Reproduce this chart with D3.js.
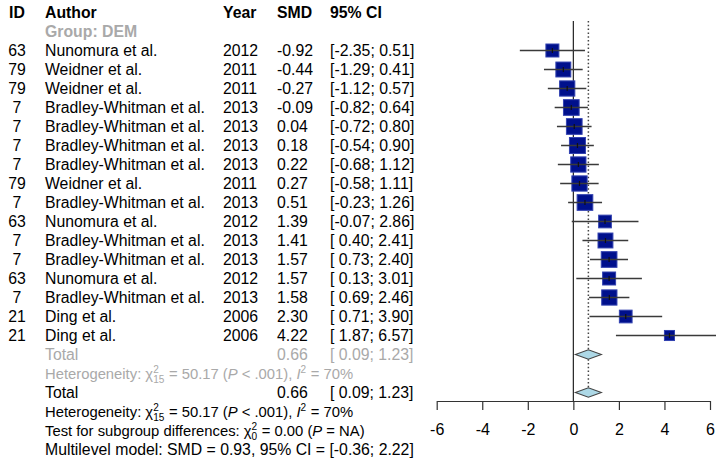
<!DOCTYPE html>
<html>
<head>
<meta charset="utf-8">
<script src="https://cdn.jsdelivr.net/npm/d3@7"></script>
<style>
  html, body { margin: 0; padding: 0; background: #fff; }
  svg { display: block; font-family: "Liberation Sans", Arial, Helvetica, sans-serif; }
</style>
</head>
<body>
<svg id="chart" width="716" height="463"></svg>
<script>
// Study-level data (subgroup DEM)
const ids     = [63, 79, 79, 7, 7, 7, 7, 79, 7, 63, 7, 7, 63, 7, 21, 21];
const authors = ["Nunomura et al.", "Weidner et al.", "Weidner et al.", "Bradley-Whitman et al.",
                 "Bradley-Whitman et al.", "Bradley-Whitman et al.", "Bradley-Whitman et al.",
                 "Weidner et al.", "Bradley-Whitman et al.", "Nunomura et al.",
                 "Bradley-Whitman et al.", "Bradley-Whitman et al.", "Nunomura et al.",
                 "Bradley-Whitman et al.", "Ding et al.", "Ding et al."];
const years   = [2012, 2011, 2011, 2013, 2013, 2013, 2013, 2011, 2013, 2012, 2013, 2013, 2012, 2013, 2006, 2006];
const smd     = [-0.92, -0.44, -0.27, -0.09, 0.04, 0.18, 0.22, 0.27, 0.51, 1.39, 1.41, 1.57, 1.57, 1.58, 2.30, 4.22];
const ciLow   = [-2.35, -1.29, -1.12, -0.82, -0.72, -0.54, -0.68, -0.58, -0.23, -0.07, 0.40, 0.73, 0.13, 0.69, 0.71, 1.87];
const ciHigh  = [0.51, 0.41, 0.57, 0.64, 0.80, 0.90, 1.12, 1.11, 1.26, 2.86, 2.41, 2.40, 3.01, 2.46, 3.90, 6.57];
// Random-effects weights (%)
const weights = [5.0, 6.6, 6.9, 7.3, 7.3, 7.6, 6.9, 6.9, 7.3, 4.8, 6.6, 7.3, 5.0, 6.9, 4.8, 3.0];

// Pooled estimates
const subgroupTotal = { est: 0.66, lo: 0.09, hi: 1.23 };
const overallTotal  = { est: 0.66, lo: 0.09, hi: 1.23 };
const axisTicks = [-6, -4, -2, 0, 2, 4, 6];

const svg = d3.select("#chart");
const FS = 15.8;      // table text
const FS_HET = 14.8;  // heterogeneity / test statistics
const black = "#000";
const grey = "#a9a9a9";

// Row layout
const rowY = k => 12.5 + 19 * k;
const col = { id: 17, author: 45, year: 223, smd: 277, ci: 330 };

const x = d3.scaleLinear().domain([-6, 6]).range([436.7, 710]);
const side = d3.scaleSqrt().domain([0, 7.6]).range([0, 16]);

const fmt = v => v.toFixed(2);
const fmtCI = (lo, hi) => "[" + (lo >= 0 ? " " : "") + fmt(lo) + "; " + fmt(hi) + "]";

function txt(xp, yc, s, opts = {}) {
  return svg.append("text")
    .attr("x", xp).attr("y", yc).attr("dy", "0.36em")
    .attr("font-size", opts.size || FS)
    .attr("font-weight", opts.bold ? "bold" : "normal")
    .attr("font-style", opts.italic ? "italic" : "normal")
    .attr("text-anchor", opts.anchor || "start")
    .attr("fill", opts.color || black)
    .style("white-space", "pre")
    .text(s);
}

// Header
txt(col.id, rowY(0), "ID", { bold: true, anchor: "middle" });
txt(col.author, rowY(0), "Author", { bold: true });
txt(col.year, rowY(0), "Year", { bold: true });
txt(col.smd, rowY(0), "SMD", { bold: true });
txt(col.ci, rowY(0), "95% CI", { bold: true });
txt(col.author, rowY(1), "Group: DEM", { bold: true, color: grey });

// Study rows (text)
smd.forEach((v, i) => {
  const y = rowY(i + 2);
  txt(col.id, y, ids[i], { anchor: "middle" });
  txt(col.author, y, authors[i]);
  txt(col.year, y, years[i]);
  txt(col.smd, y, fmt(v));
  txt(col.ci, y, fmtCI(ciLow[i], ciHigh[i]));
});

// Summary rows (text)
const kSub = smd.length + 2;
txt(col.author, rowY(kSub), "Total", { color: grey });
txt(col.smd, rowY(kSub), fmt(subgroupTotal.est), { color: grey });
txt(col.ci, rowY(kSub), fmtCI(subgroupTotal.lo, subgroupTotal.hi), { color: grey });
txt(col.author, rowY(kSub + 2), "Total");
txt(col.smd, rowY(kSub + 2), fmt(overallTotal.est));
txt(col.ci, rowY(kSub + 2), fmtCI(overallTotal.lo, overallTotal.hi));

// One line of text built from runs: plain, italic, or stacked super/subscripts
function rich(x0, yc, parts, color, size) {
  let cx = x0;
  const small = size * 0.68;
  const piece = (xp, y, s, sz, it) => {
    const t = svg.append("text").attr("x", xp).attr("y", y)
      .attr("font-size", sz).attr("fill", color)
      .attr("font-style", it ? "italic" : "normal")
      .style("white-space", "pre").text(s);
    return t.node().getComputedTextLength();
  };
  parts.forEach(p => {
    if (p.sup !== undefined) {
      const w1 = piece(cx, yc - 0.5, p.sup, small);
      const w2 = p.sub ? piece(cx, yc + 9, p.sub, small) : 0;
      cx += Math.max(w1, w2) + 0.5;
    } else {
      cx += piece(cx, yc + 5.3, p.t, size, p.it);
    }
  });
}

const hetParts = [
  { t: "Heterogeneity: χ" }, { sup: "2", sub: "15" },
  { t: " = 50.17 (" }, { t: "P", it: true }, { t: " < .001), " },
  { t: "I", it: true }, { sup: "2", sub: "" }, { t: " = 70%" }
];
rich(col.author, rowY(kSub + 1), hetParts, grey, FS_HET);
rich(col.author, rowY(kSub + 3), hetParts, black, FS_HET);
rich(col.author, rowY(kSub + 4), [
  { t: "Test for subgroup differences: χ" }, { sup: "2", sub: "0" },
  { t: " = 0.00 (" }, { t: "P", it: true }, { t: " = NA)" }
], black, FS_HET);
txt(col.author, rowY(kSub + 5), "Multilevel model: SMD = 0.93, 95% CI = [-0.36; 2.22]");

// Plot area
const yTop = 21, yAxis = 401;

// Reference lines
svg.append("line")
  .attr("x1", x(0)).attr("x2", x(0)).attr("y1", yTop).attr("y2", yAxis)
  .attr("stroke", "#222").attr("stroke-width", 1.2);
svg.append("line")
  .attr("x1", x(overallTotal.est)).attr("x2", x(overallTotal.est))
  .attr("y1", yTop).attr("y2", rowY(kSub + 2))
  .attr("stroke", "#444").attr("stroke-width", 1.5).attr("stroke-dasharray", "1.5,2.3");

// Study squares and confidence intervals
const g = svg.append("g");
smd.forEach((v, i) => {
  const y = rowY(i + 2);
  const s = side(weights[i]);
  g.append("rect")
    .attr("x", x(v) - s / 2).attr("y", y - s / 2)
    .attr("width", s).attr("height", s)
    .attr("fill", "#00108c").attr("stroke", "#3242b0").attr("stroke-width", 1);
  g.append("line")
    .attr("x1", x(ciLow[i])).attr("x2", x(ciHigh[i]))
    .attr("y1", y).attr("y2", y)
    .attr("stroke", "#3a3a3a").attr("stroke-width", 1.4);
  g.append("line")
    .attr("x1", x(v)).attr("x2", x(v)).attr("y1", y - 2.5).attr("y2", y + 2.5)
    .attr("stroke", "#111").attr("stroke-width", 1.2);
});

// Pooled diamonds
function diamond(d, y) {
  const h = 4.7;
  svg.append("path")
    .attr("d", `M${x(d.lo)},${y}L${x(d.est)},${y - h}L${x(d.hi)},${y}L${x(d.est)},${y + h}Z`)
    .attr("fill", "#add8e6").attr("stroke", "#444").attr("stroke-width", 1.1);
}
diamond(subgroupTotal, rowY(kSub));
diamond(overallTotal, rowY(kSub + 2));

// Axis
const axis = d3.axisBottom(x).tickValues(axisTicks).tickFormat(d3.format("d"))
  .tickSizeInner(9).tickSizeOuter(0).tickPadding(14);
const ax = svg.append("g").attr("transform", `translate(0,${yAxis})`).call(axis);
ax.select(".domain").attr("stroke", "#333").attr("stroke-width", 1.2);
ax.selectAll(".tick line").attr("stroke", "#333").attr("stroke-width", 1.2);
ax.selectAll(".tick text")
  .attr("font-size", 16)
  .attr("font-family", "'Liberation Sans', Arial, sans-serif")
  .attr("fill", "#000")
  .text(d => d < 0 ? "-" + Math.abs(d) : d);
</script>
</body>
</html>
